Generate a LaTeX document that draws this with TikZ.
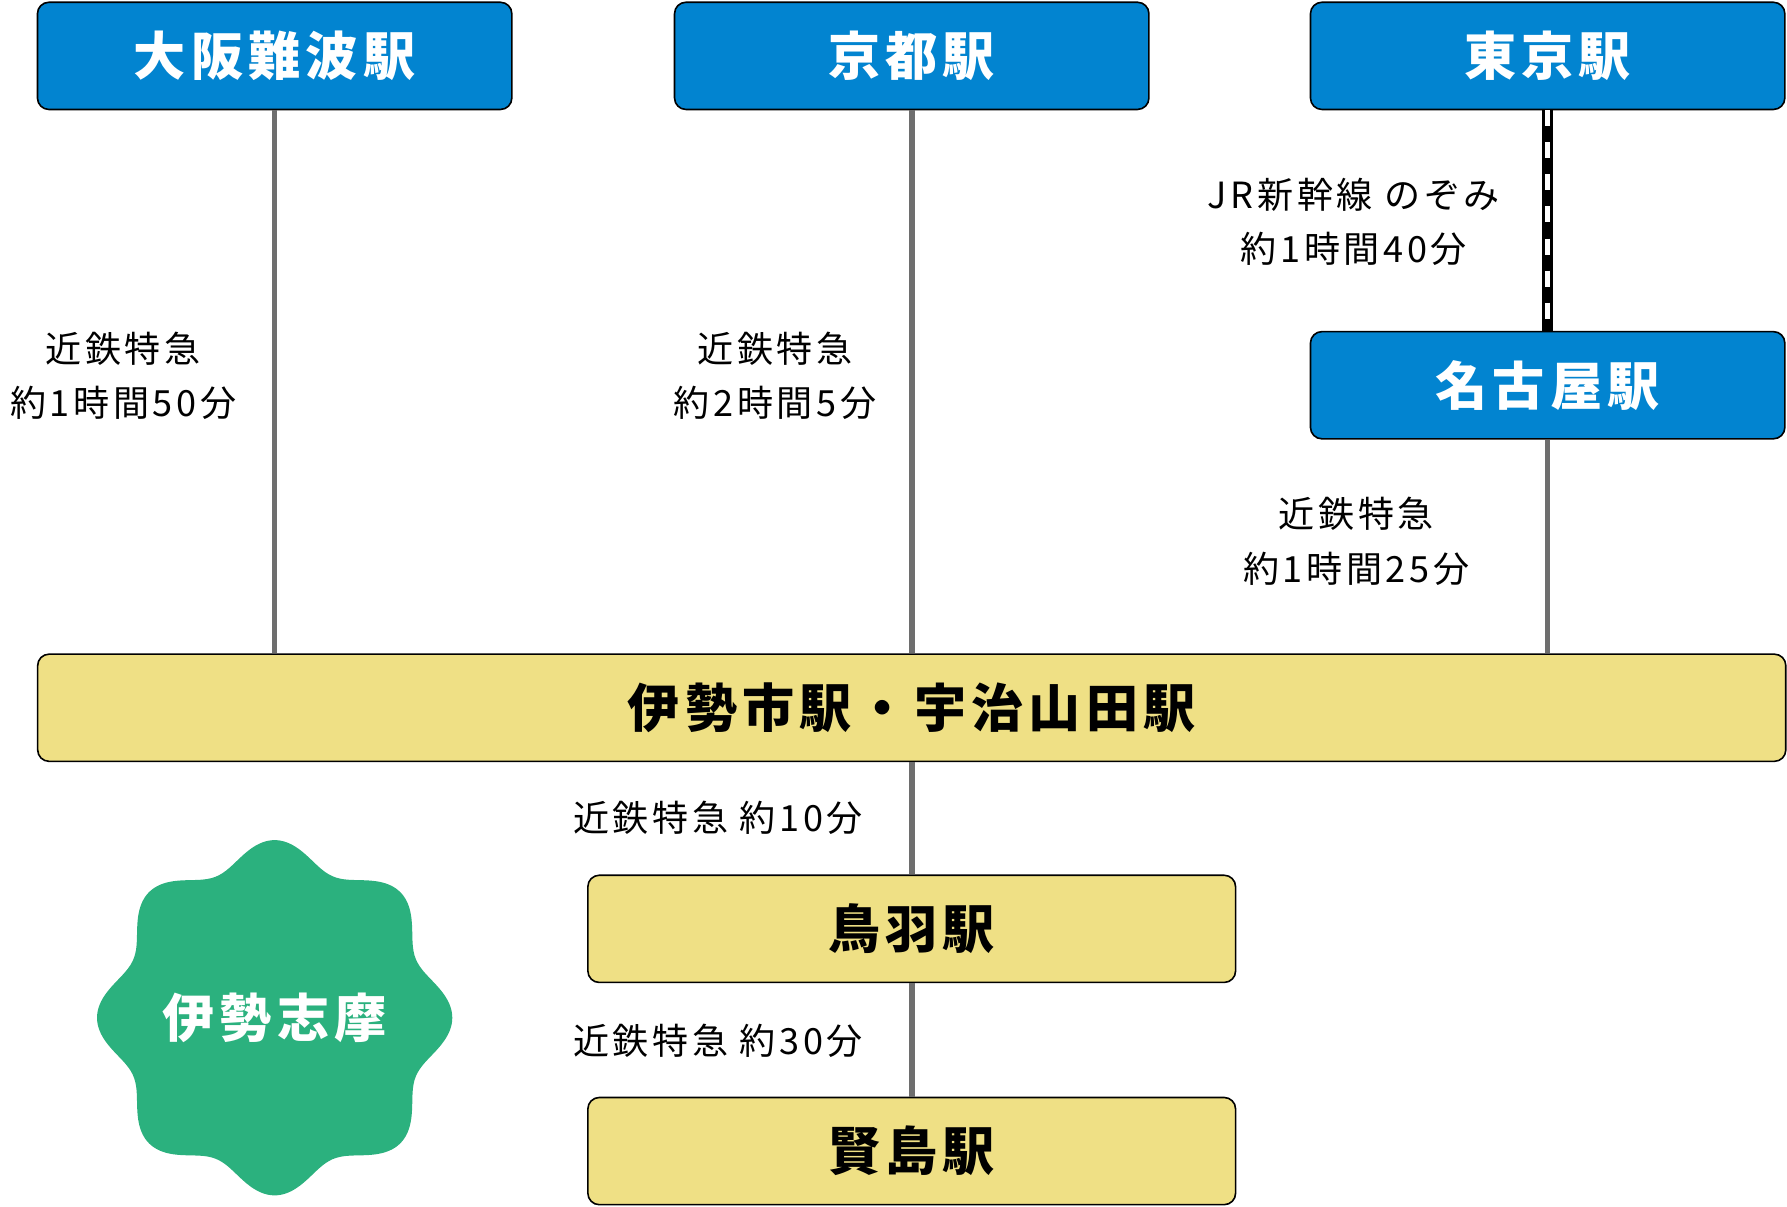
\documentclass[tikz,border=0pt]{standalone}
\usepackage{fontspec}
\setmainfont[LetterSpace=10]{Noto Sans CJK JP}
\usepackage{tikz}
\usetikzlibrary{positioning}
\definecolor{stblue}{HTML}{0284D0}
\definecolor{styellow}{HTML}{EFE085}
\definecolor{stgreen}{HTML}{2BB17E}
\definecolor{stgray}{HTML}{6E6E6E}

\begin{document}
\begin{tikzpicture}
    [x=0.01cm, y=-0.01cm,
     bluebox/.style={draw, fill=stblue, text=white, rounded corners=0.1cm, minimum width=4.16cm, minimum height=0.94cm, font=\fontsize{13}{15}\selectfont\bfseries},
     yelbox/.style={draw, fill=styellow, rounded corners=0.1cm, minimum height=0.94cm, font=\fontsize{13}{15}\selectfont\bfseries},
     rail/.style={stgray, line width=1.4pt},
     lbl/.style={align=center, font=\fontsize{9}{13.5}\selectfont}]
    \useasboundingbox (0,0) rectangle (1568,1059);

    % departure stations
    \node[bluebox] (osaka) at (241,49) {大阪難波駅};
    \node[bluebox] (kyoto) at (800,49) {京都駅};
    \node[bluebox] (tokyo) at (1358,49) {東京駅};
    \node[bluebox] (nagoya) at (1358,338) {名古屋駅};

    % destinations
    \node[yelbox, minimum width=15.33cm] (ise) at (800,621) {伊勢市駅・宇治山田駅};
    \node[yelbox, minimum width=5.68cm] (toba) at (800,815) {鳥羽駅};
    \node[yelbox, minimum width=5.68cm] (kashiko) at (800,1010) {賢島駅};

    % lines
    \draw[rail] (osaka.south) -- (osaka.south |- ise.north);
    \draw[rail] (kyoto.south) -- (kyoto.south |- ise.north);
    \draw[rail] (nagoya.south) -- (nagoya.south |- ise.north);
    \draw[rail] (ise.south -| toba.north) -- (toba.north);
    \draw[rail] (toba.south) -- (kashiko.north);
    \draw[black, line width=2.8pt] (tokyo.south) -- (nagoya.north);
    \draw[white, line width=1.2pt, dash pattern=on 4pt off 4pt] (tokyo.south) -- (nagoya.north);

    % times
    \node[lbl] (t1) at (108,330) {近鉄特急\\約1時間50分};
    \node[lbl] (t2) at (680,330) {近鉄特急\\約2時間5分};
    \node[lbl] (t3) at (1188,195) {JR新幹線 のぞみ\\約1時間40分};
    \node[lbl] (t4) at (1190,475) {近鉄特急\\約1時間25分};
    \node[lbl] (t5) at (630,718) {近鉄特急 約10分};
    \node[lbl] (t6) at (630,913) {近鉄特急 約30分};

    % badge
    \fill[stgreen] plot[domain=0:360, samples=240, smooth] ({241+145*(1+0.075*cos(8*\x))*cos(\x)}, {893+145*(1+0.075*cos(8*\x))*sin(\x)}) -- cycle;
    \node[text=white, font=\fontsize{13}{15}\selectfont\bfseries] (area) at (241,893) {伊勢志摩};
\end{tikzpicture}
\end{document}
